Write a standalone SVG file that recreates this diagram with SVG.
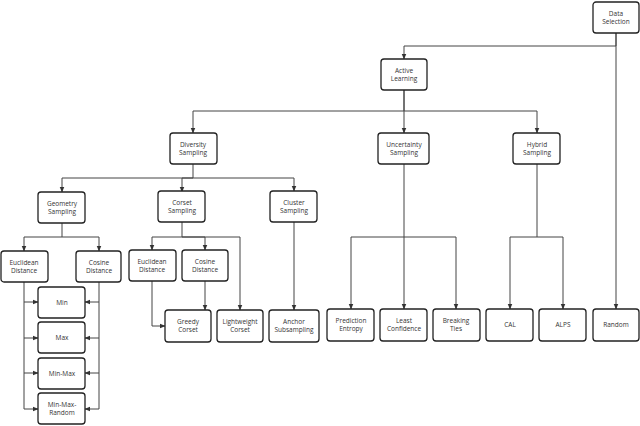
<svg xmlns="http://www.w3.org/2000/svg" width="640" height="426" viewBox="0 0 640 426">
<style>
rect{fill:#fff;stroke:#222;stroke-width:1.3}
text{font-family:"Open Sans","Noto Sans",sans-serif;font-size:6.5px;fill:#333;text-anchor:middle}
.c path{fill:none;stroke:#444;stroke-width:1;marker-end:url(#a)}
</style>
<defs><marker id="a" viewBox="0 0 10 10" refX="9" refY="5" markerWidth="6" markerHeight="6" orient="auto"><path d="M0,1 L10,5 L0,9 z" fill="#333"/></marker></defs>
<rect width="640" height="426" style="fill:#fff;stroke:none"/>
<g class="c">
<path d="M616,33 V46 H404 V59"/>
<path d="M616,33 V309"/>
<path d="M404,90 V111 H193 V133"/>
<path d="M404,90 V133"/>
<path d="M404,111 H537 V133"/>
<path d="M193,164 V178 H62 V192"/>
<path d="M193,178 H182 V192"/>
<path d="M193,178 H294 V191"/>
<path d="M62,223 V237 H24 V251"/>
<path d="M62,237 H99 V251"/>
<path d="M182,222 V237 H152 V250"/>
<path d="M182,237 H205 V250"/>
<path d="M182,237 H240 V310"/>
<path d="M294,222 V310"/>
<path d="M205,281 V310"/>
<path d="M152,281 V326 H165"/>
<path d="M24,282 V302 H38"/>
<path d="M24,302 V338 H38"/>
<path d="M24,338 V373 H38"/>
<path d="M24,373 V409 H38"/>
<path d="M99,282 V302 H85"/>
<path d="M99,302 V338 H85"/>
<path d="M99,338 V373 H85"/>
<path d="M99,373 V409 H85"/>
<path d="M404,164 V309"/>
<path d="M404,237 H351 V309"/>
<path d="M404,237 H456 V309"/>
<path d="M537,164 V237 H510 V309"/>
<path d="M537,237 H563 V309"/>
</g>
<g id="data-selection"><rect x="593" y="2" width="46" height="31" rx="3"/><text x="616" y="15.5">Data</text><text x="616" y="24">Selection</text></g>
<g id="active-learning"><rect x="381" y="59" width="46" height="31" rx="3"/><text x="404" y="72.5">Active</text><text x="404" y="81">Learning</text></g>
<g id="diversity"><rect x="170" y="133" width="47" height="31" rx="3"/><text x="193" y="146.5">Diversity</text><text x="193" y="155">Sampling</text></g>
<g id="uncertainty"><rect x="378" y="133" width="51" height="31" rx="3"/><text x="404" y="146.5">Uncertainty</text><text x="404" y="155">Sampling</text></g>
<g id="hybrid"><rect x="513" y="133" width="47" height="31" rx="3"/><text x="537" y="146.5">Hybrid</text><text x="537" y="155">Sampling</text></g>
<g id="geometry"><rect x="38" y="192" width="47" height="31" rx="3"/><text x="62" y="205.5">Geometry</text><text x="62" y="214">Sampling</text></g>
<g id="corset"><rect x="158" y="191" width="47" height="31" rx="3"/><text x="182" y="204.5">Corset</text><text x="182" y="213">Sampling</text></g>
<g id="cluster"><rect x="270" y="191" width="47" height="31" rx="3"/><text x="294" y="204.5">Cluster</text><text x="294" y="213">Sampling</text></g>
<g id="euclid1"><rect x="1" y="251" width="47" height="31" rx="3"/><text x="24" y="264.5">Euclidean</text><text x="24" y="273">Distance</text></g>
<g id="cosine1"><rect x="76" y="251" width="45" height="31" rx="3"/><text x="99" y="264.5">Cosine</text><text x="99" y="273">Distance</text></g>
<g id="euclid2"><rect x="129" y="250" width="47" height="31" rx="3"/><text x="152" y="263.5">Euclidean</text><text x="152" y="272">Distance</text></g>
<g id="cosine2"><rect x="182" y="250" width="46" height="31" rx="3"/><text x="205" y="263.5">Cosine</text><text x="205" y="272">Distance</text></g>
<g id="min"><rect x="38" y="287" width="47" height="31" rx="3"/><text x="62" y="305">Min</text></g>
<g id="max"><rect x="38" y="322" width="47" height="31" rx="3"/><text x="62" y="340">Max</text></g>
<g id="minmax"><rect x="38" y="358" width="47" height="31" rx="3"/><text x="62" y="376">Min-Max</text></g>
<g id="minmaxrandom"><rect x="38" y="393" width="47" height="31" rx="3"/><text x="62" y="406.5">Min-Max-</text><text x="62" y="415">Random</text></g>
<g id="greedy"><rect x="165" y="310" width="46" height="32" rx="3"/><text x="188" y="323.5">Greedy</text><text x="188" y="332">Corset</text></g>
<g id="lightweight"><rect x="217" y="310" width="46" height="32" rx="3"/><text x="240" y="323.5">Lightweight</text><text x="240" y="332">Corset</text></g>
<g id="anchor"><rect x="269" y="310" width="50" height="32" rx="3"/><text x="294" y="323.5">Anchor</text><text x="294" y="332">Subsampling</text></g>
<g id="entropy"><rect x="327" y="309" width="47" height="32" rx="3"/><text x="351" y="322.5">Prediction</text><text x="351" y="331">Entropy</text></g>
<g id="least"><rect x="380" y="309" width="47" height="32" rx="3"/><text x="404" y="322.5">Least</text><text x="404" y="331">Confidence</text></g>
<g id="ties"><rect x="433" y="309" width="47" height="32" rx="3"/><text x="456" y="322.5">Breaking</text><text x="456" y="331">Ties</text></g>
<g id="cal"><rect x="486" y="309" width="47" height="32" rx="3"/><text x="510" y="327">CAL</text></g>
<g id="alps"><rect x="539" y="309" width="47" height="32" rx="3"/><text x="563" y="327">ALPS</text></g>
<g id="random"><rect x="593" y="309" width="46" height="32" rx="3"/><text x="616" y="327">Random</text></g>
</svg>
